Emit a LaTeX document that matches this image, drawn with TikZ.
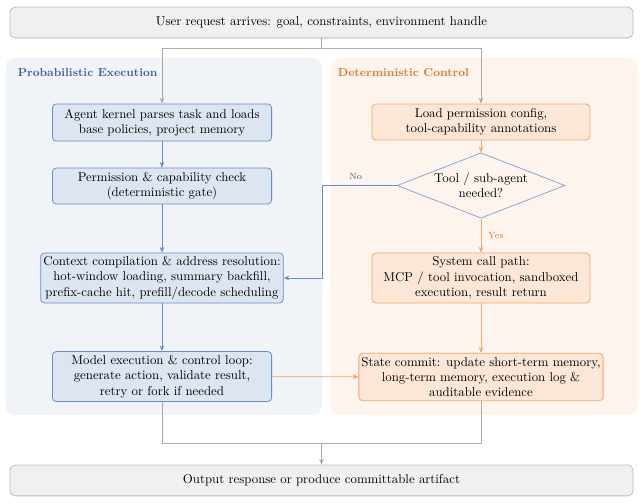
\documentclass[tikz,border=0pt]{standalone}
\usepackage{amsmath,amssymb}
\usepackage{tikz}
\usetikzlibrary{positioning,arrows.meta,shapes.geometric}
\usepackage{xcolor}
\definecolor{bline}{HTML}{6A8CCB}
\definecolor{bfill}{HTML}{DDE5F1}
\definecolor{bpanel}{HTML}{F0F3F8}
\definecolor{btext}{HTML}{3B5EA6}
\definecolor{oline}{HTML}{F2A66A}
\definecolor{ofill}{HTML}{FCE7D7}
\definecolor{opanel}{HTML}{FDF4EE}
\definecolor{otext}{HTML}{D97A2C}
\definecolor{gline}{HTML}{BDBDBD}
\definecolor{gfill}{HTML}{F0F0F0}

\begin{document}
\begin{tikzpicture}[x=0.78pt,y=-0.78pt,>={Stealth[length=4.5pt,width=3.6pt]},
  bbox/.style={draw=bline,fill=bfill,rounded corners=3pt,align=center,inner sep=2pt,line width=0.6pt},
  obox/.style={draw=oline,fill=ofill,rounded corners=3pt,align=center,inner sep=2pt,line width=0.6pt},
  gbox/.style={draw=gline,fill=gfill,rounded corners=4pt,align=center,line width=0.6pt,minimum width=486pt,minimum height=24pt},
  barrow/.style={->,draw=bline,line width=0.6pt},
  oarrow/.style={->,draw=oline,line width=0.6pt},
  garrow/.style={draw=gline!90!black,line width=0.6pt}]
\useasboundingbox (0,0) rectangle (643,503);
% panels
\fill[bpanel,rounded corners=8pt] (5,58) rectangle (322,415);
\fill[opanel,rounded corners=8pt] (330,58) rectangle (638,415);
\node[anchor=west,fill=bfill!40,inner sep=2pt,text=btext,font=\small\bfseries] (ptitle) at (15,73) {Probabilistic Execution};
\node[anchor=west,inner sep=2pt,text=otext,font=\small\bfseries] (dtitle) at (335,73) {Deterministic Control};
% top and bottom
\node[gbox] (req) at (321.5,22.5) {User request arrives: goal, constraints, environment handle};
\node[gbox] (out) at (321.5,480.5) {Output response or produce committable artifact};
% left column
\node[bbox,minimum width=171pt,minimum height=29pt] (kernel) at (162,122.5) {Agent kernel parses task and loads\\base policies, project memory};
\node[bbox,minimum width=171pt,minimum height=28pt] (perm) at (162,186) {Permission \& capability check\\(deterministic gate)};
\node[bbox,minimum width=187pt,minimum height=39pt] (ctx) at (162,278) {Context compilation \& address resolution:\\hot-window loading, summary backfill,\\prefix-cache hit, prefill/decode scheduling};
\node[bbox,minimum width=171pt,minimum height=39pt] (loop) at (162,376.5) {Model execution \& control loop:\\generate action, validate result,\\retry or fork if needed};
% right column
\node[obox,minimum width=170pt,minimum height=28pt] (load) at (481,122) {Load permission config,\\tool-capability annotations};
\node[diamond,draw=bline!80,fill=opanel,line width=0.6pt,align=center,inner sep=0pt,aspect=2.6,minimum width=131pt,minimum height=51pt] (need) at (481,185.5) {Tool / sub-agent\\needed?};
\node[obox,minimum width=170pt,minimum height=39pt] (syscall) at (481,278) {System call path:\\MCP / tool invocation, sandboxed\\execution, result return};
\node[obox,minimum width=187pt,minimum height=37pt] (commit) at (481,377) {State commit: update short-term memory,\\long-term memory, execution log \&\\auditable evidence};
% connectors
\coordinate (split) at (321.5,48);
\coordinate (nobend) at (322,185.5);
\coordinate (merge) at (321.5,443);
\draw[garrow] (req.south) -- (split);
\draw[garrow,->] (split) -| (kernel.north);
\draw[garrow,->] (split) -| (load.north);
\draw[barrow] (kernel) -- (perm);
\draw[barrow] (perm) -- (ctx);
\draw[barrow] (ctx) -- (loop);
\draw[oarrow] (load) -- (need);
\draw[oarrow] (need) -- (syscall) node[midway,right=2pt,font=\scriptsize,text=otext]{Yes};
\draw[oarrow] (syscall) -- (commit);
\draw[barrow] (need.west) -- (nobend) node[pos=0.55,above=1pt,font=\scriptsize,text=btext]{No} |- (ctx.east);
\draw[oarrow] (loop) -- (commit);
\draw[garrow] (loop.south) |- (merge);
\draw[garrow] (commit.south) |- (merge);
\draw[garrow,->] (merge) -- (out.north);
\end{tikzpicture}
\end{document}
